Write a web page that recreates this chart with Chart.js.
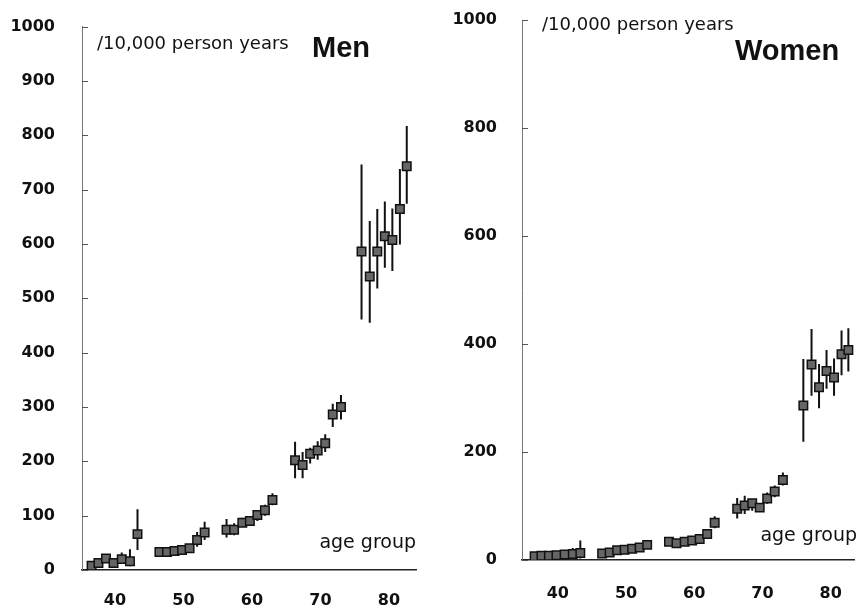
<!DOCTYPE html>
<html>
<head>
<meta charset="utf-8">
<script src="https://cdn.jsdelivr.net/npm/chart.js@4.4.1/dist/chart.umd.min.js"></script>
<style>
  html, body { margin: 0; padding: 0; background: #fff; }
  .panel { position: absolute; top: 0; width: 431px; height: 610px; }
  #men-box   { left: 0; }
  #women-box { left: 431px; }
</style>
</head>
<body>
<div class="panel" id="men-box"><canvas id="chart-men" width="431" height="610"></canvas></div>
<div class="panel" id="women-box"><canvas id="chart-women" width="431" height="610"></canvas></div>
<script>
/* ── DATA ───────────────────────────────────────────────────────────── */
// seven points per decade group, plotted on the age axis
const ageX = [
  36.6, 37.6, 38.7, 39.8, 41.0, 42.2, 43.3,
  46.5, 47.6, 48.7, 49.8, 50.9, 52.0, 53.1,
  56.3, 57.4, 58.6, 59.7, 60.8, 61.9, 63.0,
  66.3, 67.4, 68.5, 69.6, 70.7, 71.8, 73.0,
  76.0, 77.2, 78.3, 79.4, 80.5, 81.6, 82.6
];
const xTicks = [40, 50, 60, 70, 80];

// incidence per 10,000 person years, with lower / upper limits
const menRate = [
  8, 13, 21, 13, 20, 16, 66,
  33, 33, 35, 37, 40, 55, 69,
  74, 74, 87, 90, 101, 110, 129,
  202, 193, 214, 220, 233, 286, 300,
  586, 540, 586, 614, 607, 664, 743
];
const menLow = [
  3, 8, 15, 8, 12, 7, 37,
  29, 29, 31, 33, 36, 43, 55,
  60, 64, 79, 83, 90, 100, 119,
  169, 169, 196, 203, 217, 263, 277,
  461, 455, 518, 556, 550, 599, 674
];
const menHigh = [
  13, 19, 27, 19, 32, 38, 112,
  38, 38, 40, 42, 45, 70, 89,
  94, 86, 96, 98, 108, 120, 141,
  236, 217, 225, 237, 250, 306, 322,
  746, 642, 664, 678, 665, 738, 817
];

const womenRate = [
  7, 8, 8, 9, 10, 11, 13,
  12, 14, 18, 19, 21, 23, 28,
  34, 31, 34, 36, 39, 48, 69,
  95, 101, 105, 97, 114, 127, 148,
  286, 362, 320, 350, 338, 381, 389
];
const womenLow = [
  4, 5, 5, 6, 6, 5, 3,
  9, 11, 15, 16, 18, 19, 24,
  30, 27, 30, 32, 35, 42, 59,
  77, 85, 91, 89, 104, 116, 138,
  219, 304, 281, 317, 304, 342, 349
];
const womenHigh = [
  10, 11, 11, 12, 15, 22, 36,
  15, 17, 21, 22, 24, 27, 33,
  38, 35, 38, 40, 44, 54, 81,
  115, 119, 113, 104, 125, 138, 162,
  372, 428, 363, 389, 373, 425, 429
];

/* ── PLUGINS ────────────────────────────────────────────────────────── */
// vertical limit lines, drawn under the square markers
function errorBars(low, high) {
  return {
    id: 'errorBars',
    beforeDatasetsDraw(chart) {
      const { ctx, scales: { x, y } } = chart;
      ctx.save();
      ctx.strokeStyle = '#111';
      ctx.lineWidth = 2;
      ctx.beginPath();
      ageX.forEach((a, i) => {
        const px = x.getPixelForValue(a);
        ctx.moveTo(px, y.getPixelForValue(low[i]));
        ctx.lineTo(px, y.getPixelForValue(high[i]));
      });
      ctx.stroke();
      ctx.restore();
    }
  };
}

// short inward ticks on the y axis plus the panel captions
function panelText(cfg) {
  return {
    id: 'panelText',
    afterDraw(chart) {
      const { ctx, scales: { y }, chartArea } = chart;
      ctx.save();
      ctx.strokeStyle = '#555';
      ctx.lineWidth = 1;
      ctx.beginPath();
      y.ticks.forEach(t => {
        const py = Math.round(y.getPixelForValue(t.value)) + 0.5;
        ctx.moveTo(chartArea.left, py);
        ctx.lineTo(chartArea.left + 6, py);
      });
      ctx.stroke();

      ctx.fillStyle = '#111';
      ctx.textBaseline = 'alphabetic';
      ctx.textAlign = 'left';
      ctx.font = '18px "DejaVu Sans"';
      ctx.fillText('/10,000 person years', cfg.unitX, cfg.unitY);
      ctx.font = 'bold 29px "Liberation Sans"';
      ctx.fillText(cfg.title, cfg.titleX, cfg.titleY);
      ctx.textAlign = 'right';
      ctx.font = '19px "DejaVu Sans"';
      ctx.fillText('age group', cfg.ageX, cfg.ageY);
      ctx.restore();
    }
  };
}

/* ── PANEL ──────────────────────────────────────────────────────────── */
function makePanel(id, rate, low, high, cfg) {
  const tickFont = { family: 'DejaVu Sans', weight: 'bold', size: 16 };
  return new Chart(document.getElementById(id), {
    type: 'scatter',
    data: {
      datasets: [{
        data: ageX.map((a, i) => ({ x: a, y: rate[i] })),
        pointStyle: 'rect',
        pointRadius: 6,
        backgroundColor: '#666',
        borderColor: '#111',
        borderWidth: 1.5
      }]
    },
    options: {
      responsive: false, animation: false,
      layout: { padding: { top: cfg.top, left: 0, right: cfg.right, bottom: 0 } },
      plugins: { legend: { display: false }, tooltip: { enabled: false } },
      scales: {
        x: {
          type: 'linear', min: cfg.xMin, max: cfg.xMax,
          afterBuildTicks: s => { s.ticks = xTicks.map(v => ({ value: v })); },
          afterFit: s => { s.height = cfg.xH; s.paddingLeft = 0; s.paddingRight = 0; },
          grid: { display: true, drawOnChartArea: false, drawTicks: false },
          border: { color: '#222', width: 1.5 },
          ticks: { padding: cfg.xPad, color: '#111', font: tickFont, maxRotation: 0 }
        },
        y: {
          min: 0, max: 1000,
          afterFit: s => { s.width = cfg.yW; s.paddingTop = 0; s.paddingBottom = 0; },
          grid: { display: true, drawOnChartArea: false, drawTicks: false },
          border: { color: '#777', width: 1 },
          ticks: { stepSize: cfg.step, padding: cfg.yPad, color: '#111', font: tickFont,
                   callback: v => String(v) }
        }
      }
    },
    plugins: [errorBars(low, high), panelText(cfg)]
  });
}

makePanel('chart-men', menRate, menLow, menHigh, {
  top: 26.5, right: 15, xH: 40, yW: 82, xPad: 21, yPad: 27, step: 100,
  xMin: 35.2, xMax: 83.95,
  title: 'Men', titleX: 312, titleY: 57,
  unitX: 97, unitY: 49, ageX: 416, ageY: 548
});

makePanel('chart-women', womenRate, womenLow, womenHigh, {
  top: 20, right: 4, xH: 50, yW: 91, xPad: 24, yPad: 25, step: 200,
  xMin: 34.75, xMax: 83.5,
  title: 'Women', titleX: 304, titleY: 60,
  unitX: 111, unitY: 30, ageX: 426, ageY: 541
});
</script>
</body>
</html>
